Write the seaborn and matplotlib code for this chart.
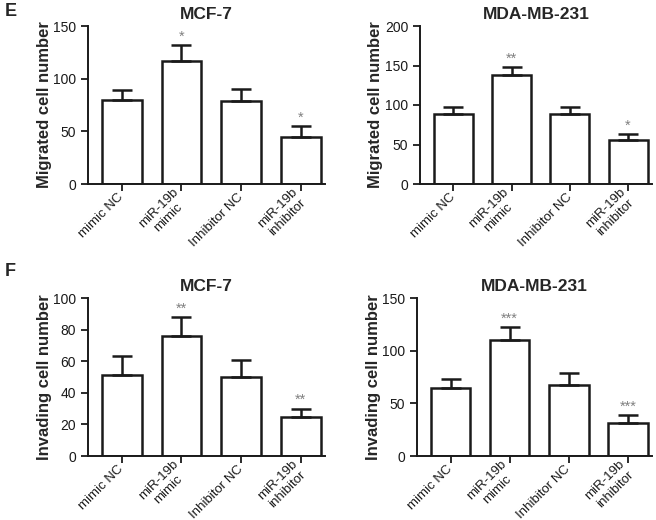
import matplotlib
matplotlib.use("Agg")
import matplotlib.pyplot as plt
import seaborn as sns
import numpy as np

sns.set_style("ticks")
plt.rcParams['font.family'] = ['Liberation Sans', 'DejaVu Sans']

groups = ["mimic NC", "miR-19b\nmimic", "Inhibitor NC", "miR-19b\ninhibitor"]

# Migration
mig_mcf7 = [80, 117, 79, 45]
mig_mcf7_err = [9, 15, 11, 10]
mig_mcf7_sig = ["", "*", "", "*"]
mig_mda = [88, 138, 89, 56]
mig_mda_err = [9, 10, 8, 7]
mig_mda_sig = ["", "**", "", "*"]

# Invasion
inv_mcf7 = [51, 76, 50, 25]
inv_mcf7_err = [12, 12, 11, 5]
inv_mcf7_sig = ["", "**", "", "**"]
inv_mda = [65, 110, 67, 31]
inv_mda_err = [8, 12, 12, 8]
inv_mda_sig = ["", "***", "", "***"]

fig = plt.figure(figsize=(6.56, 5.2), dpi=100)

panels = [
    # rect, values, err, sig, title, ylabel, ymax, step
    ([88/656, 1-184/520, 237/656, 158/520], mig_mcf7, mig_mcf7_err, mig_mcf7_sig,
     "MCF-7", "Migrated cell number", 150, 50),
    ([420/656, 1-184/520, 232/656, 158/520], mig_mda, mig_mda_err, mig_mda_sig,
     "MDA-MB-231", "Migrated cell number", 200, 50),
    ([88/656, 1-456/520, 237/656, 158/520], inv_mcf7, inv_mcf7_err, inv_mcf7_sig,
     "MCF-7", "Invading cell number", 100, 20),
    ([417/656, 1-456/520, 235/656, 158/520], inv_mda, inv_mda_err, inv_mda_sig,
     "MDA-MB-231", "Invading cell number", 150, 50),
]

for rect, vals, err, sig, title, ylab, ymax, step in panels:
    ax = fig.add_axes(rect)
    sns.barplot(x=groups, y=vals, color="white", edgecolor="#1a1a1a",
                linewidth=1.8, width=0.67, ax=ax, errorbar=None)
    xs = np.arange(len(vals))
    ax.errorbar(xs, vals, yerr=[np.zeros(len(err)), err], fmt="none",
                ecolor="#1a1a1a", elinewidth=1.8, capsize=7, capthick=1.8)
    for x, v, e, s in zip(xs, vals, err, sig):
        if s:
            ax.text(x, v + e + ymax * 0.01, s, ha="center", va="bottom",
                    color="#808080", fontsize=10.5)
    ax.set_xlim(-0.57, 3.41)
    ax.set_ylim(0, ymax)
    ax.set_yticks(np.arange(0, ymax + 1, step))
    sns.despine(ax=ax)
    for sp in ["left", "bottom"]:
        ax.spines[sp].set_linewidth(1.4)
        ax.spines[sp].set_color("#1a1a1a")
    ax.tick_params(axis="both", length=5, width=1.3, labelsize=10, colors="#1a1a1a")
    ax.tick_params(axis="x", pad=3)
    ax.set_xticks(xs)
    ax.set_xticklabels(groups, rotation=45, ha="right", va="center",
                       rotation_mode="anchor", multialignment="center",
                       fontsize=9.5)
    ax.set_xlabel("")
    ax.set_ylabel(ylab, fontsize=12, fontweight="bold", labelpad=1)
    ax.set_title(title, fontsize=12.5, fontweight="bold", pad=5)

fig.text(5/656, 1-12/520, "E", fontsize=13, fontweight="bold", va="center")
fig.text(5/656, 1-272/520, "F", fontsize=13, fontweight="bold", va="center")

fig.savefig("out.png", dpi=100)
